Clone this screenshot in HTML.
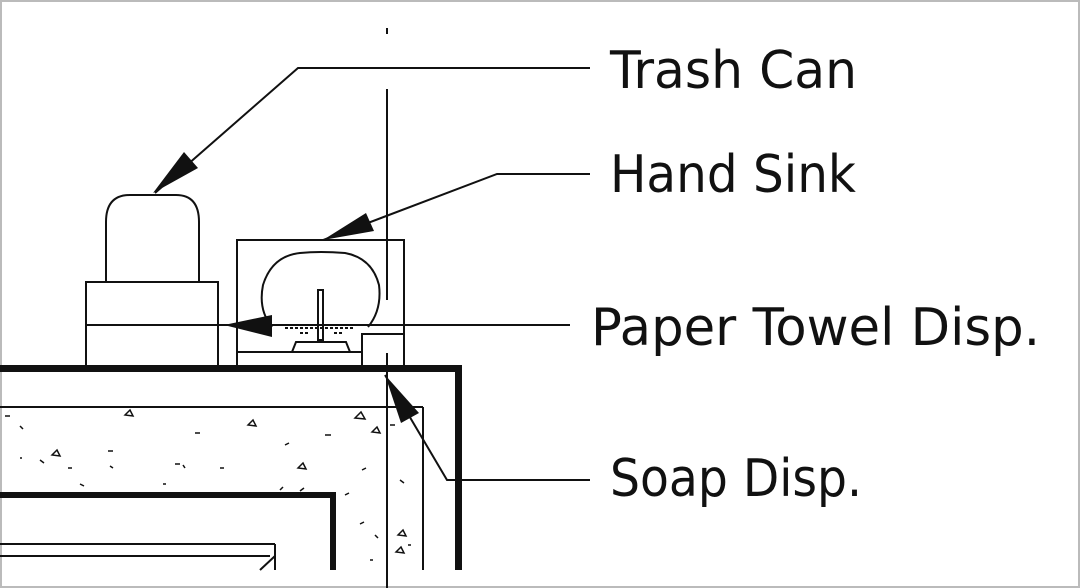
<!DOCTYPE html>
<html><head><meta charset="utf-8"><style>
html,body{margin:0;padding:0;background:#fff;}
svg{display:block;}
text{font-family:"DejaVu Sans","Liberation Sans",sans-serif;fill:#111;}
</style></head><body>
<svg width="1080" height="588" viewBox="0 0 1080 588" xmlns="http://www.w3.org/2000/svg">
<rect x="0" y="0" width="1080" height="588" fill="#fff"/>
<rect x="0.5" y="0.5" width="1079" height="587" fill="none" stroke="#bbb" stroke-width="3"/>
<g stroke="#111" fill="none" stroke-width="2">
<path d="M106,282 V222 Q106,195 130,195 H176 Q199,195 199,222 V282"/>
<rect x="86" y="282" width="132" height="86"/>
<rect x="237" y="240" width="167" height="126"/>
<path d="M272,327 Q258,310 263,285 Q272,256 300,253 Q320,251 345,253 Q372,258 379,285 Q382,310 368,327"/>
<line x1="237" y1="352" x2="362" y2="352"/>
<path d="M292,352 L296,342 H346 L350,352"/>
<rect x="318" y="290" width="5" height="50" stroke-width="2"/>
<path d="M300,333 l10,0 M334,333 l10,0 M285,328 h70" stroke-width="2" stroke-dasharray="3,2"/>
<rect x="362" y="334" width="42" height="32"/>
<line x1="387" y1="28" x2="387" y2="34"/>
<line x1="387" y1="89" x2="387" y2="300"/>
<line x1="387" y1="353" x2="387" y2="588"/>
<line x1="0" y1="407" x2="423" y2="407"/>
<line x1="423" y1="407" x2="423" y2="570"/>
<line x1="0" y1="544" x2="275" y2="544"/>
<line x1="0" y1="556" x2="270" y2="556"/>
<line x1="275" y1="544" x2="275" y2="570"/>
<line x1="260" y1="570" x2="275" y2="556"/>
<polyline points="155,193 298,68 590,68"/>
<polyline points="323,240 497,174 590,174"/>
<line x1="86" y1="325" x2="570" y2="325"/>
<polyline points="385,375 447,480 590,480"/>
</g>
<g fill="#111">
<path d="M0,365 H462 V570 H455 V372 H0 Z"/>
<path d="M0,492 H336 V570 H330 V498 H0 Z"/>
<polygon points="153,193 198,168 184,152"/>
<polygon points="323,240 374,231 366,213"/>
<polygon points="224,325 272,315 272,337"/>
<polygon points="385,375 419,413 401,423"/>
</g>
<g stroke="#111" stroke-width="1.5" fill="none">
<path d="M125,415 l5,-5 l3,6 z M248,425 l5,-5 l3,6 z M52,455 l5,-5 l3,6 z M298,468 l5,-5 l3,6 z M355,418 l6,-6 l4,7 z M372,432 l5,-5 l3,6 z M398,535 l5,-5 l3,6 z M396,552 l5,-5 l3,6 z"/>
<path d="M5,416 h5 M20,426 l3,3 M195,433 h5 M108,451 h5 M110,466 l3,2 M175,464 h5 M183,465 l2,3 M68,468 h4 M40,460 l4,3 M220,468 h4 M80,484 l4,2 M280,490 l3,-3 M325,435 h6 M285,445 l4,-2 M300,491 l4,-3 M362,470 l4,-2 M400,480 l4,3 M345,495 l4,-2 M390,425 h5 M20,458 h2 M163,484 h3 M360,524 l4,-2 M375,535 l3,3 M408,545 h3 M370,560 h3"/>
</g>
<text x="610" y="88" font-size="52" textLength="247" lengthAdjust="spacingAndGlyphs">Trash Can</text>
<text x="610" y="192" font-size="52" textLength="246" lengthAdjust="spacingAndGlyphs">Hand Sink</text>
<text x="591" y="345" font-size="52" textLength="449" lengthAdjust="spacingAndGlyphs">Paper Towel Disp.</text>
<text x="610" y="496" font-size="52" textLength="252" lengthAdjust="spacingAndGlyphs">Soap Disp.</text>
</svg>
</body></html>
